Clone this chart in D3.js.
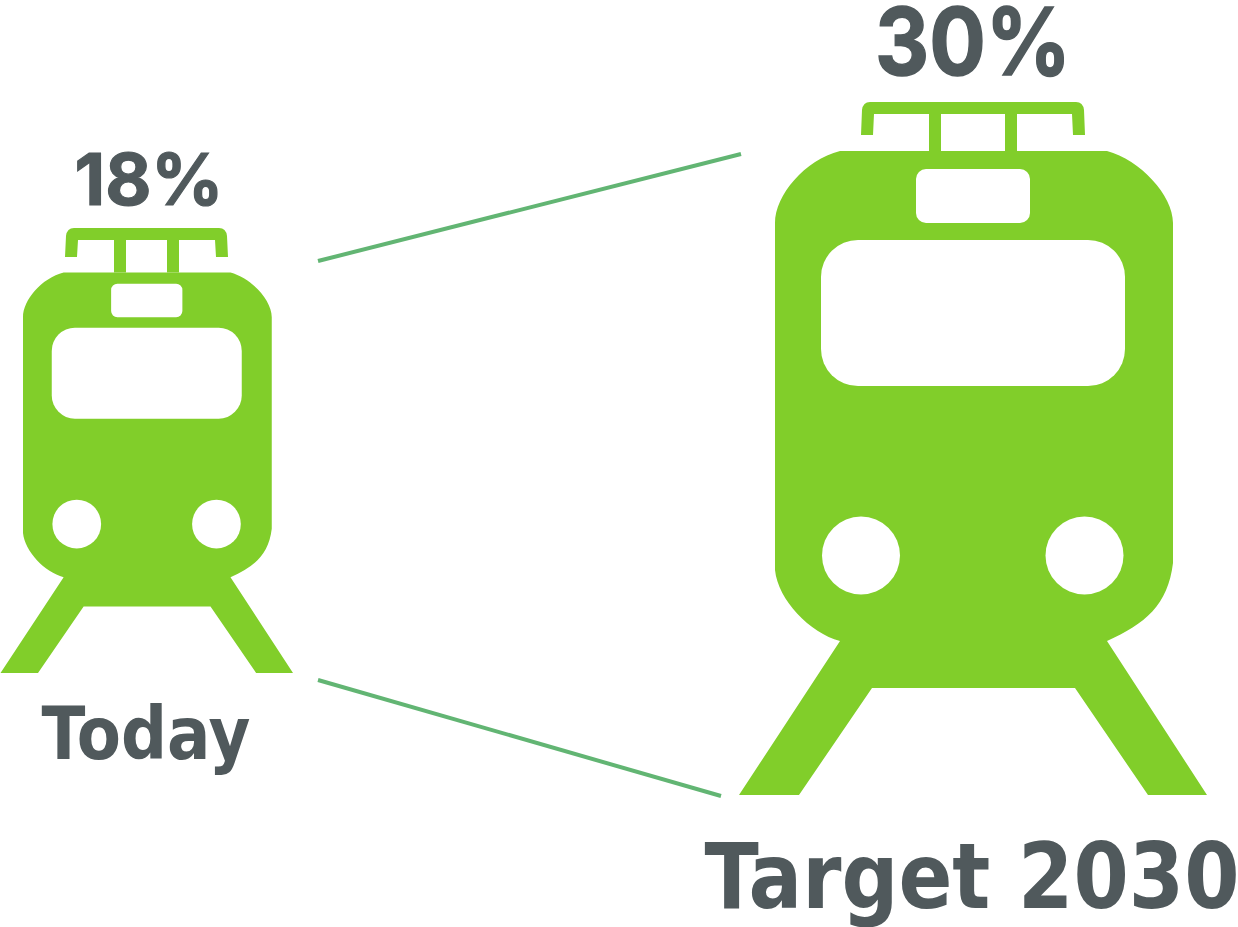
<!DOCTYPE html>
<html>
<head>
<meta charset="utf-8">
<script src="https://cdn.jsdelivr.net/npm/d3@7"></script>
<style>
  html, body { margin: 0; padding: 0; background: #fff; overflow: hidden; }
</style>
</head>
<body>
<svg id="chart" width="1238" height="927"></svg>
<script>
// data
var categories = ["Today", "Target 2030"];
var shares = [18, 30];

var GREEN = "#81ce2a";
var GREY = "#50595c";
var LINE = "#62b573";

// icon drawn in its own units, each train maps it through its own scales
var iconX = [739, 1207];
var iconY = [151, 795];

// value/label are [x, baseline, font size, text width, extra stroke]
var layout = [
  { x: [0.5, 293], y: [272.5, 673], pant: [65, 228, 120, 173, 228, 272.5, 29], value: [149, 205, 72, 149, 1.2], label: [146, 759, 72.5, 209, 0] },
  { x: [739, 1207], y: [151, 795], pant: [861, 1085, 935, 1011, 102, 151, 33], value: [973, 75, 94, 196, 1.5], label: [972, 908, 91.5, 535, 0] }
];

var svg = d3.select("#chart");

function trainPath(x, y) {
  var p = d3.path();
  // body outline, clockwise from the top left
  p.moveTo(x(840), y(151));
  p.lineTo(x(1107), y(151));
  p.bezierCurveTo(x(1140), y(160), x(1173), y(195), x(1173), y(223));
  p.lineTo(x(1173), y(563));
  p.bezierCurveTo(x(1168), y(605), x(1145), y(624), x(1107), y(641));
  p.lineTo(x(1207), y(795));
  p.lineTo(x(1148), y(795));
  p.lineTo(x(1075), y(688));
  p.lineTo(x(872), y(688));
  p.lineTo(x(799), y(795));
  p.lineTo(x(739), y(795));
  p.lineTo(x(840), y(641));
  p.bezierCurveTo(x(810), y(633), x(778), y(600), x(775), y(570));
  p.lineTo(x(775), y(223));
  p.bezierCurveTo(x(775), y(195), x(805), y(160), x(840), y(151));
  p.closePath();
  return p.toString();
}

function roundWindow(x, y, x0, y0, x1, y1, r) {
  var p = d3.path();
  var rr = x(r) - x(0);
  p.moveTo(x(x0 + r), y(y0));
  p.arcTo(x(x1), y(y0), x(x1), y(y1), rr);
  p.arcTo(x(x1), y(y1), x(x0), y(y1), rr);
  p.arcTo(x(x0), y(y1), x(x0), y(y0), rr);
  p.arcTo(x(x0), y(y0), x(x1), y(y0), rr);
  p.closePath();
  return p.toString();
}

function pantograph(g, a) {
  var left = a[0], right = a[1], post1 = a[2], post2 = a[3], top = a[4], bottom = a[5], leg = a[6];
  var t = 12;
  var p = d3.path();
  p.moveTo(left, top + leg);
  p.lineTo(left + 1, top + 8);
  p.quadraticCurveTo(left + 2, top, left + 9, top);
  p.lineTo(right - 9, top);
  p.quadraticCurveTo(right - 2, top, right - 1, top + 8);
  p.lineTo(right, top + leg);
  p.lineTo(right - t, top + leg);
  p.lineTo(right - t - 1, top + t);
  p.lineTo(left + t + 1, top + t);
  p.lineTo(left + t, top + leg);
  p.closePath();
  g.append("path").attr("d", p.toString()).attr("fill", GREEN);
  g.selectAll("rect.post").data([post1, post2]).enter().append("rect")
    .attr("class", "post")
    .attr("x", function(d) { return d - t / 2; })
    .attr("y", top + t - 1)
    .attr("width", t)
    .attr("height", bottom - top - t + 1)
    .attr("fill", GREEN);
}

var font = "Inter, 'Liberation Sans', sans-serif";
var labelFont = "'DejaVu Sans', sans-serif";

function addText(g, a, family, str) {
  g.append("text")
    .attr("x", a[0]).attr("y", a[1])
    .attr("text-anchor", "middle")
    .attr("font-family", family).attr("font-weight", 700)
    .attr("font-size", a[2]).attr("fill", GREY)
    .attr("stroke", GREY).attr("stroke-width", a[4])
    .attr("textLength", a[3]).attr("lengthAdjust", "spacingAndGlyphs")
    .text(str);
}

categories.forEach(function(name, i) {
  var l = layout[i];
  var x = d3.scaleLinear().domain(iconX).range(l.x);
  var y = d3.scaleLinear().domain(iconY).range(l.y);
  var g = svg.append("g").attr("class", "train");

  pantograph(g, l.pant);

  // body with its windows and lamps cut out in white
  g.append("path").attr("d", trainPath(x, y)).attr("fill", GREEN);
  g.append("path").attr("d", roundWindow(x, y, 916, 169, 1030, 223, 10)).attr("fill", "#fff");
  g.append("path").attr("d", roundWindow(x, y, 821, 240, 1125, 386, 37)).attr("fill", "#fff");
  g.selectAll("circle").data([861, 1084.5]).enter().append("circle")
    .attr("cx", function(d) { return x(d); })
    .attr("cy", y(555.5))
    .attr("r", x(39) - x(0))
    .attr("fill", "#fff");

  addText(g, l.value, font, shares[i] + "%");
  addText(g, l.label, labelFont, name);
});

// zoom lines between the two trains
var connect = d3.line();
svg.selectAll("path.connector")
  .data([[[318, 261], [741, 154]], [[318, 680], [721, 796]]])
  .enter().append("path")
  .attr("class", "connector")
  .attr("d", connect)
  .attr("fill", "none")
  .attr("stroke", LINE)
  .attr("stroke-width", 4);
</script>
</body>
</html>
